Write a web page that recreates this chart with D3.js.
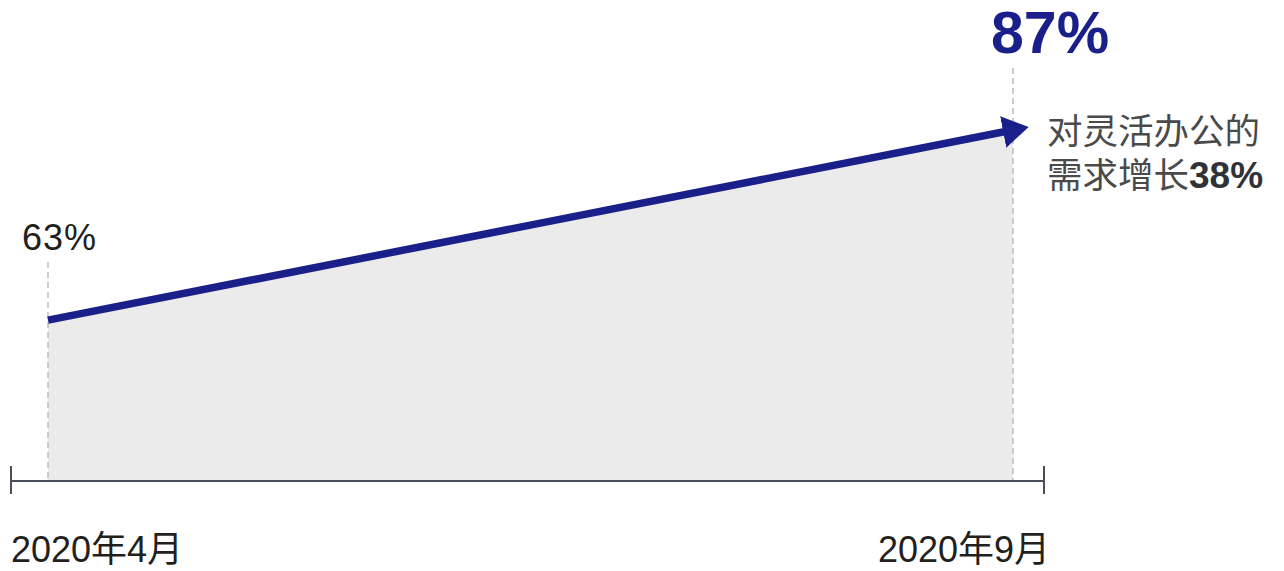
<!DOCTYPE html>
<html>
<head>
<meta charset="utf-8">
<script src="https://cdn.jsdelivr.net/npm/d3@7"></script>
<style>
  body { margin: 0; background: #fff; }
  text { font-family: "Liberation Sans", "Noto Sans CJK SC", sans-serif; }
</style>
</head>
<body>
<svg class="chart"></svg>
<script>
// data
const periods = ["2020年4月", "2020年9月"];
const values = [63, 87];
const valueLabels = ["63%", "87%"];
const noteLines = ["对灵活办公的", "需求增长"];
const growthLabel = "38%";

const width = 1284,
      height = 571,
      baseY = 481;

// x: index of period, y: percent
const x = d3.scaleLinear().domain([0, 1]).range([48, 1013]);
const y = d3.scaleLinear().domain([42.7, 87]).range([baseY, 130]);

const chart = d3.select(".chart")
  .attr("width", width)
  .attr("height", height);

const blue = "#1b1f8a";

// arrow head
chart.append("defs").append("marker")
  .attr("id", "arrow")
  .attr("markerUnits", "userSpaceOnUse")
  .attr("viewBox", "0 -17 26 34")
  .attr("markerWidth", 26)
  .attr("markerHeight", 34)
  .attr("refX", 10)
  .attr("refY", 0)
  .attr("orient", "auto")
  .append("path")
    .attr("d", "M0,-16L26,0L0,16Z")
    .attr("fill", blue);

// shaded area
const area = d3.area()
  .x((d, i) => x(i))
  .y0(baseY)
  .y1(d => y(d));

chart.append("path")
  .datum(values)
  .attr("d", area)
  .attr("fill", "#ebebeb");

// dashed guides
const guideTop = [262, 68];
chart.selectAll(".guide")
  .data(values)
  .enter()
  .append("line")
    .attr("class", "guide")
    .attr("x1", (d, i) => x(i))
    .attr("x2", (d, i) => x(i))
    .attr("y1", (d, i) => guideTop[i])
    .attr("y2", baseY)
    .attr("stroke", "#bdbdbd")
    .attr("stroke-width", 1.5)
    .attr("stroke-dasharray", "6,4");

// axis line with end ticks
const axisLeft = x(0) - 37,
      axisRight = x(1) + 31;
const axis = chart.append("g").attr("stroke", "#4a5058").attr("stroke-width", 2);
axis.append("line").attr("x1", axisLeft).attr("x2", axisRight).attr("y1", baseY).attr("y2", baseY);
[axisLeft, axisRight].forEach(px => {
  axis.append("line").attr("x1", px).attr("x2", px).attr("y1", baseY - 15).attr("y2", baseY + 13);
});

// trend arrow
const line = d3.line()
  .x((d, i) => x(i))
  .y(d => y(d));

chart.append("path")
  .datum(values)
  .attr("d", line)
  .attr("fill", "none")
  .attr("stroke", blue)
  .attr("stroke-width", 7.5)
  .attr("marker-end", "url(#arrow)");

// period labels
chart.append("text")
  .attr("x", axisLeft)
  .attr("y", 562)
  .attr("font-size", 36)
  .attr("fill", "#231f1c")
  .text(periods[0]);

chart.append("text")
  .attr("x", axisRight + 6)
  .attr("y", 562)
  .attr("text-anchor", "end")
  .attr("font-size", 36)
  .attr("fill", "#231f1c")
  .text(periods[1]);

// value labels
chart.append("text")
  .attr("x", 22)
  .attr("y", 250)
  .attr("font-size", 36)
  .attr("letter-spacing", 1)
  .attr("fill", "#231f1c")
  .text(valueLabels[0]);

chart.append("text")
  .attr("x", 991)
  .attr("y", 53)
  .attr("font-size", 59)
  .attr("font-weight", "bold")
  .attr("fill", blue)
  .text(valueLabels[1]);

// note
chart.append("text")
  .attr("x", 1047)
  .attr("y", 144)
  .attr("font-size", 35.5)
  .attr("fill", "#4a4a4a")
  .text(noteLines[0]);

const note2 = chart.append("text")
  .attr("x", 1047)
  .attr("y", 188)
  .attr("font-size", 35.5)
  .attr("fill", "#4a4a4a");
note2.append("tspan").text(noteLines[1]);
note2.append("tspan")
  .attr("font-weight", "bold")
  .attr("fill", "#2f3236")
  .attr("font-size", 37)
  .text(growthLabel);
</script>
</body>
</html>
